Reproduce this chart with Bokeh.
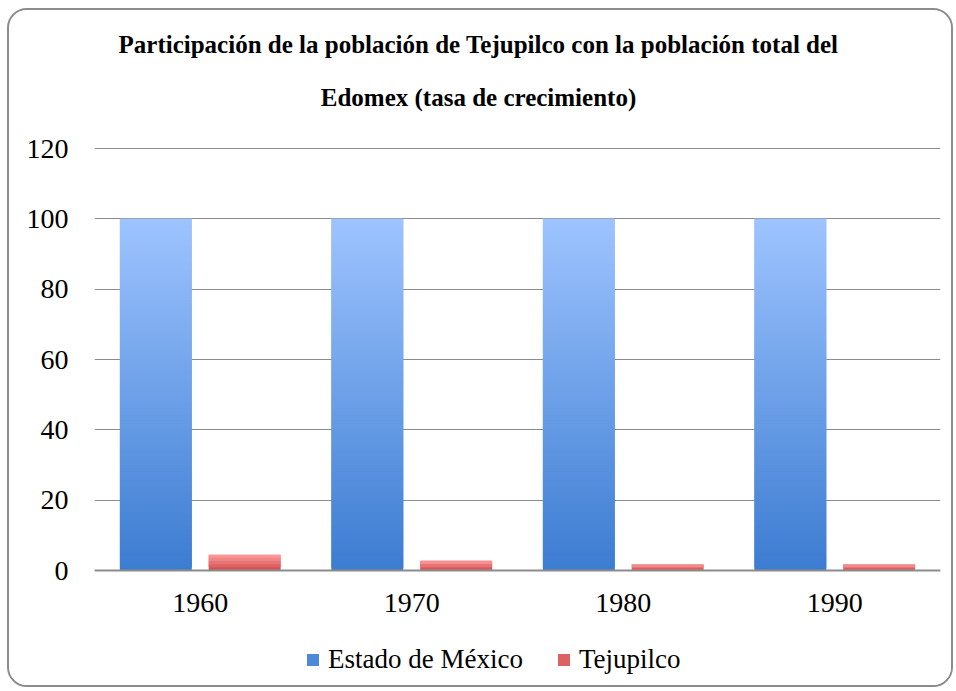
from bokeh.plotting import figure
from bokeh.models import (FactorRange, Range1d, ColumnDataSource, Legend, LegendItem,
                          FixedTicker, Span)
from bokeh.core.properties import value
from bokeh.transform import dodge
from bokeh.embed import file_html
from bokeh.resources import INLINE

# ---- data ----
years = ["1960", "1970", "1980", "1990"]
edomex = [100, 100, 100, 100]
tejupilco = [4.5, 2.8, 1.7, 1.7]
series_names = ["Estado de México", "Tejupilco"]
y_ticks = [0, 20, 40, 60, 80, 100, 120]
title_lines = ["Participación de la población de Tejupilco con la población total del",
               "Edomex (tasa de crecimiento)"]

FONT = "Liberation Serif"
# layout constants (pixels)
PX_PER_UNIT = 422 / 120.0      # 120 units span 422 px
ZERO_FROM_TOP = 560            # zero line distance from canvas top
ZERO_FROM_BOTTOM = 113         # space under the zero line for labels + legend


def to_units(px):
    return px / PX_PER_UNIT


def hex2rgb(h):
    h = h.lstrip("#")
    return tuple(int(h[i:i + 2], 16) for i in (0, 2, 4))


def mix(c1, c2, t):
    a, b = hex2rgb(c1), hex2rgb(c2)
    return "#%02x%02x%02x" % tuple(int(round(a[k] + (b[k] - a[k]) * t)) for k in range(3))


def gradient_source(values, bottom_color, top_color):
    xs, bots, tops, cols = [], [], [], []
    for yr, v in zip(years, values):
        n = max(2, int(v * PX_PER_UNIT / 3))
        for i in range(n):
            xs.append(yr)
            bots.append(v * i / n)
            tops.append(min(v, v * (i + 2) / n))
            cols.append(mix(bottom_color, top_color, (i + 0.5) / n))
    return ColumnDataSource(dict(x=xs, bottom=bots, top=tops, color=cols))


p = figure(width=946, height=679, output_backend="svg", toolbar_location=None,
           x_range=FactorRange(factors=years, range_padding=0),
           y_range=Range1d(-to_units(ZERO_FROM_BOTTOM), to_units(ZERO_FROM_TOP)),
           x_axis_location=None,
           min_border_left=85, min_border_right=15, min_border_top=0, min_border_bottom=6)
p.outline_line_color = None
p.background_fill_color = "white"
p.border_fill_color = "white"
p.styles = {"border": "2px solid #8c8c8c", "border-radius": "20px", "overflow": "hidden",
            "margin-left": "7px", "margin-top": "8px"}

src_a = gradient_source(edomex, "#3c7cd1", "#9ec4ff")
src_b = gradient_source(tejupilco, "#cf4a4a", "#ff9e9e")

r_a = p.vbar(x=dodge("x", -0.21, range=p.x_range), bottom="bottom", top="top", width=0.34,
             fill_color="color", line_color=None, source=src_a)
r_b = p.vbar(x=dodge("x", 0.21, range=p.x_range), bottom="bottom", top="top", width=0.34,
             fill_color="color", line_color=None, source=src_b)

# grid / y axis
for g in p.grid:
    if g.dimension == 0:
        g.grid_line_color = None
p.ygrid.grid_line_color = "#8c8c8c"
p.ygrid.grid_line_width = 1
p.yaxis.ticker = FixedTicker(ticks=y_ticks)
p.yaxis.axis_line_color = None
p.yaxis.major_tick_line_color = None
p.yaxis.minor_tick_line_color = None
p.yaxis.major_label_standoff = 20
p.yaxis.major_label_text_font = FONT
p.yaxis.major_label_text_font_size = "28px"
p.yaxis.major_label_text_color = "black"

# category axis line at zero and category labels
p.add_layout(Span(location=0, dimension="width", line_color="#8c8c8c", line_width=2))
p.text(x=years, y=[-to_units(32.5)] * len(years), text=years, text_align="center",
       text_baseline="middle", text_font=value(FONT), text_font_size="28px",
       text_color="black")

# chart title, two lines, centred over the chart area
p.text(x=[2.0, 2.0], y=[to_units(526), to_units(473)], text=title_lines,
       x_offset=-39, text_align="center", text_baseline="middle",
       text_font=value(FONT), text_font_size="25px", text_font_style="bold",
       text_color="black")

# legend (offset from frame's bottom-left, in pixels)
legend = Legend(items=[LegendItem(label=series_names[0], renderers=[r_a], index=20),
                       LegendItem(label=series_names[1], renderers=[r_b], index=1)],
                orientation="horizontal", location=(211, 8),
                label_text_font=FONT, label_text_font_size="27px", label_text_color="black",
                glyph_width=15, glyph_height=15, spacing=33, label_standoff=8,
                border_line_color=None, background_fill_alpha=0, margin=0, padding=0)
p.add_layout(legend)

open("out.html", "w").write(file_html(p, INLINE))
